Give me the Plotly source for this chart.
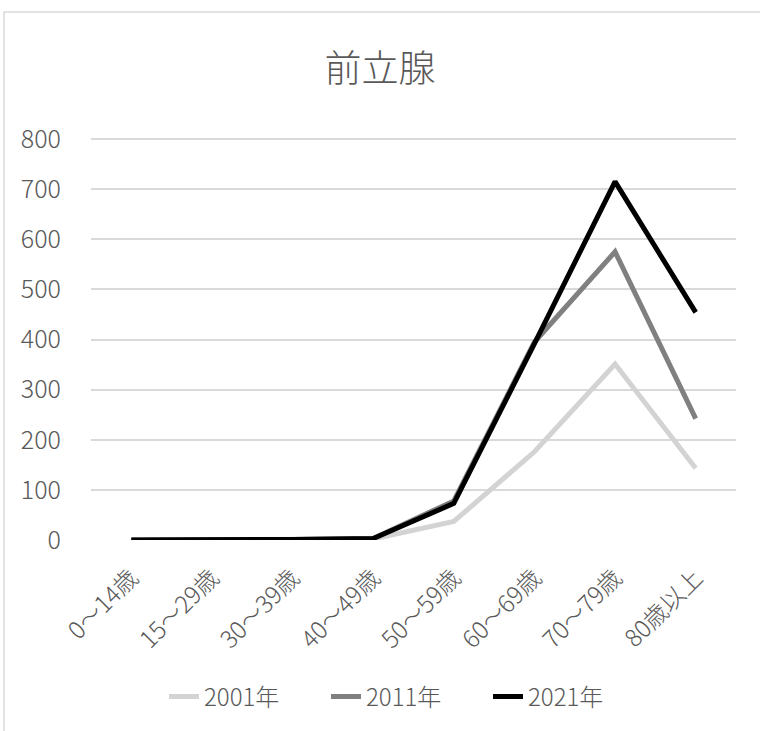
import plotly.graph_objects as go

categories = ["0〜14歳", "15〜29歳", "30〜39歳", "40〜49歳", "50〜59歳", "60〜69歳", "70〜79歳", "80歳以上"]
s2001 = [0, 0, 0, 2, 37, 176, 351, 143]
s2011 = [0, 0, 1, 3, 78, 395, 575, 242]
s2021 = [0, 0, 1, 3, 73, 392, 715, 454]
series_names = ["2001年", "2011年", "2021年"]
series_colors = ["#d3d3d3", "#808080", "#000000"]
y_ticks = [0, 100, 200, 300, 400, 500, 600, 700, 800]

W, H = 760, 731
L, R, T, B = 91, 24, 135, 191
pw, ph = W - L - R, H - T - B
y_top = ph / (401 / 800)

font_family = "Noto Sans CJK JP, Noto Sans, sans-serif"
txt = "#595959"

fig = go.Figure()
for name, vals, col in zip(series_names, [s2001, s2011, s2021], series_colors):
    fig.add_trace(go.Scatter(x=categories, y=vals, name=name, mode="lines",
                             line=dict(color=col, width=5)))

def px_x(x):
    return (x - L) / pw

def px_y(y):
    return (H - B - y) / ph

fig.update_layout(
    width=W, height=H,
    margin=dict(l=L, r=R, t=T, b=B),
    paper_bgcolor="white", plot_bgcolor="white",
    font=dict(family=font_family, color=txt, size=23, weight=300),
    title=dict(text="前立腺", x=0.5, xanchor="center", y=1 - 69 / H, yanchor="middle",
               font=dict(size=37, color=txt, family=font_family, weight=300)),
    showlegend=True,
    legend=dict(orientation="h", x=px_x(164), xanchor="left", y=px_y(697), yanchor="middle",
                font=dict(size=24, color=txt, weight=300), tracegroupgap=0,
                entrywidth=117, entrywidthmode="pixels"),
    xaxis=dict(type="category", range=[-0.5, 7.5], showgrid=False, showline=False, zeroline=False,
               tickangle=-45, ticks="", ticklabelstandoff=18,
               tickfont=dict(size=24, color=txt, weight=300)),
    yaxis=dict(range=[0, y_top], tickvals=y_ticks, showgrid=True, gridcolor="#d9d9d9", gridwidth=1.5,
               zeroline=False, showline=False, ticks="", ticklabelstandoff=29,
               tickfont=dict(size=25, color=txt, weight=300)),
    shapes=[dict(type="rect", xref="paper", yref="paper",
                 x0=px_x(4), x1=px_x(775), y0=px_y(12), y1=px_y(745),
                 line=dict(color="#d9d9d9", width=1.5), fillcolor="rgba(0,0,0,0)", layer="below")],
)

fig.write_html("out.html", config={"displayModeBar": False},
               post_script="document.body.style.margin='0';document.body.style.overflow='hidden';")
